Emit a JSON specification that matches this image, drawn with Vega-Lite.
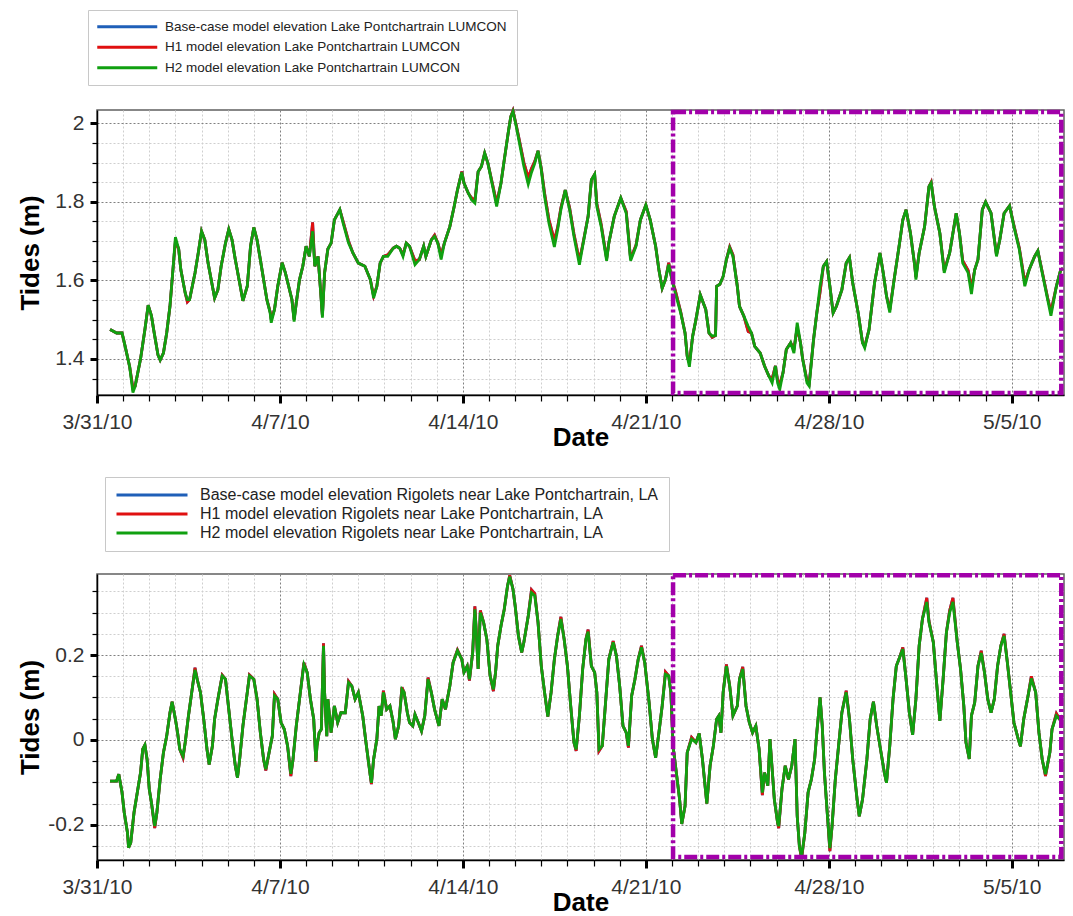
{
"$schema":"https://vega.github.io/schema/vega-lite/v6.json",
"background":"white",
"padding":{"left":16,"top":8,"right":0,"bottom":0},
"spacing":24,
"config":{"font":"Liberation Sans","view":{"stroke":"#606060","strokeWidth":1.5},"axis":{"labelFont":"Liberation Sans","titleFont":"Liberation Sans"}},
"resolve":{"scale":{"color":"independent"},"legend":{"color":"independent"}},
"datasets":{
"top":[
{"t":"2010-03-31T12:00","b":1.475,"r":1.475,"g":1.475},
{"t":"2010-03-31T18:00","b":1.466,"r":1.466,"g":1.466},
{"t":"2010-03-31T23:00","b":1.466,"r":1.466,"g":1.466},
{"t":"2010-04-01T02:00","b":1.43,"r":1.43,"g":1.43},
{"t":"2010-04-01T06:00","b":1.38,"r":1.38,"g":1.38},
{"t":"2010-04-01T09:00","b":1.325,"r":1.325,"g":1.314},
{"t":"2010-04-01T11:00","b":1.33,"r":1.33,"g":1.33},
{"t":"2010-04-01T16:00","b":1.40,"r":1.40,"g":1.40},
{"t":"2010-04-01T20:00","b":1.475,"r":1.475,"g":1.475},
{"t":"2010-04-01T23:00","b":1.537,"r":1.537,"g":1.537},
{"t":"2010-04-02T02:00","b":1.51,"r":1.51,"g":1.51},
{"t":"2010-04-02T04:00","b":1.475,"r":1.475,"g":1.475},
{"t":"2010-04-02T08:00","b":1.41,"r":1.41,"g":1.41},
{"t":"2010-04-02T10:00","b":1.397,"r":1.397,"g":1.397},
{"t":"2010-04-02T13:00","b":1.415,"r":1.415,"g":1.415},
{"t":"2010-04-02T16:00","b":1.466,"r":1.466,"g":1.466},
{"t":"2010-04-02T19:00","b":1.534,"r":1.534,"g":1.534},
{"t":"2010-04-02T22:00","b":1.636,"r":1.636,"g":1.636},
{"t":"2010-04-03T00:00","b":1.70,"r":1.70,"g":1.71},
{"t":"2010-04-03T03:00","b":1.68,"r":1.68,"g":1.68},
{"t":"2010-04-03T05:00","b":1.627,"r":1.627,"g":1.627},
{"t":"2010-04-03T09:00","b":1.568,"r":1.568,"g":1.568},
{"t":"2010-04-03T11:00","b":1.545,"r":1.545,"g":1.551},
{"t":"2010-04-03T13:00","b":1.551,"r":1.551,"g":1.551},
{"t":"2010-04-03T18:00","b":1.619,"r":1.619,"g":1.619},
{"t":"2010-04-03T21:00","b":1.67,"r":1.67,"g":1.67},
{"t":"2010-04-04T00:00","b":1.725,"r":1.725,"g":1.725},
{"t":"2010-04-04T03:00","b":1.703,"r":1.703,"g":1.703},
{"t":"2010-04-04T06:00","b":1.644,"r":1.644,"g":1.644},
{"t":"2010-04-04T10:00","b":1.585,"r":1.585,"g":1.585},
{"t":"2010-04-04T12:00","b":1.555,"r":1.555,"g":1.555},
{"t":"2010-04-04T15:00","b":1.576,"r":1.576,"g":1.576},
{"t":"2010-04-04T18:00","b":1.636,"r":1.636,"g":1.636},
{"t":"2010-04-04T22:00","b":1.695,"r":1.695,"g":1.695},
{"t":"2010-04-05T01:00","b":1.73,"r":1.73,"g":1.73},
{"t":"2010-04-05T04:00","b":1.703,"r":1.703,"g":1.703},
{"t":"2010-04-05T07:00","b":1.653,"r":1.653,"g":1.653},
{"t":"2010-04-05T11:00","b":1.593,"r":1.593,"g":1.593},
{"t":"2010-04-05T14:00","b":1.548,"r":1.548,"g":1.548},
{"t":"2010-04-05T18:00","b":1.585,"r":1.585,"g":1.585},
{"t":"2010-04-05T21:00","b":1.687,"r":1.687,"g":1.687},
{"t":"2010-04-06T00:00","b":1.735,"r":1.735,"g":1.735},
{"t":"2010-04-06T03:00","b":1.703,"r":1.703,"g":1.703},
{"t":"2010-04-06T07:00","b":1.636,"r":1.636,"g":1.636},
{"t":"2010-04-06T12:00","b":1.551,"r":1.551,"g":1.551},
{"t":"2010-04-06T15:00","b":1.52,"r":1.52,"g":1.517},
{"t":"2010-04-06T16:00","b":1.50,"r":1.50,"g":1.492},
{"t":"2010-04-06T19:00","b":1.526,"r":1.526,"g":1.526},
{"t":"2010-04-06T22:00","b":1.585,"r":1.585,"g":1.585},
{"t":"2010-04-07T02:00","b":1.645,"r":1.645,"g":1.645},
{"t":"2010-04-07T05:00","b":1.619,"r":1.619,"g":1.619},
{"t":"2010-04-07T08:00","b":1.585,"r":1.585,"g":1.585},
{"t":"2010-04-07T11:00","b":1.551,"r":1.551,"g":1.551},
{"t":"2010-04-07T13:00","b":1.50,"r":1.50,"g":1.495},
{"t":"2010-04-07T15:00","b":1.543,"r":1.543,"g":1.543},
{"t":"2010-04-07T18:00","b":1.602,"r":1.602,"g":1.602},
{"t":"2010-04-07T21:00","b":1.636,"r":1.636,"g":1.636},
{"t":"2010-04-08T00:00","b":1.687,"r":1.687,"g":1.687},
{"t":"2010-04-08T03:00","b":1.661,"r":1.661,"g":1.661},
{"t":"2010-04-08T06:00","b":1.748,"r":1.748,"g":1.725},
{"t":"2010-04-08T08:00","b":1.636,"r":1.636,"g":1.636},
{"t":"2010-04-08T11:00","b":1.661,"r":1.661,"g":1.661},
{"t":"2010-04-08T13:00","b":1.585,"r":1.585,"g":1.585},
{"t":"2010-04-08T15:00","b":1.51,"r":1.51,"g":1.505},
{"t":"2010-04-08T17:00","b":1.619,"r":1.619,"g":1.619},
{"t":"2010-04-08T20:00","b":1.68,"r":1.68,"g":1.68},
{"t":"2010-04-08T23:00","b":1.695,"r":1.695,"g":1.695},
{"t":"2010-04-09T02:00","b":1.754,"r":1.754,"g":1.754},
{"t":"2010-04-09T07:00","b":1.78,"r":1.78,"g":1.78},
{"t":"2010-04-09T10:00","b":1.75,"r":1.75,"g":1.746},
{"t":"2010-04-09T15:00","b":1.70,"r":1.70,"g":1.695},
{"t":"2010-04-09T19:00","b":1.67,"r":1.67,"g":1.67},
{"t":"2010-04-10T00:00","b":1.644,"r":1.644,"g":1.644},
{"t":"2010-04-10T06:00","b":1.636,"r":1.636,"g":1.636},
{"t":"2010-04-10T11:00","b":1.602,"r":1.602,"g":1.602},
{"t":"2010-04-10T14:00","b":1.56,"r":1.56,"g":1.555},
{"t":"2010-04-10T17:00","b":1.585,"r":1.585,"g":1.585},
{"t":"2010-04-10T20:00","b":1.644,"r":1.644,"g":1.644},
{"t":"2010-04-10T23:00","b":1.661,"r":1.661,"g":1.661},
{"t":"2010-04-11T03:00","b":1.665,"r":1.665,"g":1.661},
{"t":"2010-04-11T08:00","b":1.682,"r":1.682,"g":1.682},
{"t":"2010-04-11T11:00","b":1.687,"r":1.687,"g":1.687},
{"t":"2010-04-11T14:00","b":1.682,"r":1.682,"g":1.682},
{"t":"2010-04-11T17:00","b":1.665,"r":1.665,"g":1.661},
{"t":"2010-04-11T20:00","b":1.695,"r":1.695,"g":1.695},
{"t":"2010-04-11T23:00","b":1.687,"r":1.687,"g":1.687},
{"t":"2010-04-12T04:00","b":1.65,"r":1.65,"g":1.64},
{"t":"2010-04-12T08:00","b":1.653,"r":1.653,"g":1.653},
{"t":"2010-04-12T12:00","b":1.687,"r":1.687,"g":1.687},
{"t":"2010-04-12T14:00","b":1.661,"r":1.661,"g":1.661},
{"t":"2010-04-12T19:00","b":1.703,"r":1.703,"g":1.703},
{"t":"2010-04-12T22:00","b":1.715,"r":1.715,"g":1.712},
{"t":"2010-04-13T01:00","b":1.695,"r":1.695,"g":1.695},
{"t":"2010-04-13T04:00","b":1.665,"r":1.665,"g":1.653},
{"t":"2010-04-13T07:00","b":1.695,"r":1.695,"g":1.695},
{"t":"2010-04-13T12:00","b":1.737,"r":1.737,"g":1.737},
{"t":"2010-04-13T16:00","b":1.788,"r":1.788,"g":1.788},
{"t":"2010-04-13T19:00","b":1.83,"r":1.83,"g":1.83},
{"t":"2010-04-13T23:00","b":1.877,"r":1.877,"g":1.875},
{"t":"2010-04-14T01:00","b":1.848,"r":1.848,"g":1.848},
{"t":"2010-04-14T05:00","b":1.822,"r":1.822,"g":1.822},
{"t":"2010-04-14T08:00","b":1.81,"r":1.81,"g":1.805},
{"t":"2010-04-14T11:00","b":1.803,"r":1.803,"g":1.797},
{"t":"2010-04-14T14:00","b":1.877,"r":1.877,"g":1.877},
{"t":"2010-04-14T17:00","b":1.89,"r":1.89,"g":1.89},
{"t":"2010-04-14T20:00","b":1.924,"r":1.924,"g":1.924},
{"t":"2010-04-14T23:00","b":1.898,"r":1.898,"g":1.898},
{"t":"2010-04-15T04:00","b":1.835,"r":1.835,"g":1.83},
{"t":"2010-04-15T07:00","b":1.797,"r":1.797,"g":1.788},
{"t":"2010-04-15T11:00","b":1.848,"r":1.848,"g":1.848},
{"t":"2010-04-15T14:00","b":1.907,"r":1.907,"g":1.907},
{"t":"2010-04-15T18:00","b":1.983,"r":1.983,"g":1.983},
{"t":"2010-04-15T20:00","b":2.017,"r":2.017,"g":2.017},
{"t":"2010-04-15T22:00","b":2.032,"r":2.032,"g":2.03},
{"t":"2010-04-16T01:00","b":1.995,"r":1.995,"g":1.992},
{"t":"2010-04-16T04:00","b":1.955,"r":1.955,"g":1.949},
{"t":"2010-04-16T08:00","b":1.90,"r":1.90,"g":1.89},
{"t":"2010-04-16T12:00","b":1.862,"r":1.862,"g":1.845},
{"t":"2010-04-16T15:00","b":1.885,"r":1.885,"g":1.875},
{"t":"2010-04-16T18:00","b":1.903,"r":1.903,"g":1.898},
{"t":"2010-04-16T21:00","b":1.93,"r":1.93,"g":1.93},
{"t":"2010-04-17T00:00","b":1.885,"r":1.885,"g":1.881},
{"t":"2010-04-17T03:00","b":1.822,"r":1.822,"g":1.814},
{"t":"2010-04-17T07:00","b":1.755,"r":1.755,"g":1.746},
{"t":"2010-04-17T12:00","b":1.702,"r":1.702,"g":1.685},
{"t":"2010-04-17T15:00","b":1.735,"r":1.735,"g":1.729},
{"t":"2010-04-17T18:00","b":1.785,"r":1.785,"g":1.78},
{"t":"2010-04-17T22:00","b":1.83,"r":1.83,"g":1.83},
{"t":"2010-04-18T02:00","b":1.785,"r":1.785,"g":1.78},
{"t":"2010-04-18T06:00","b":1.718,"r":1.718,"g":1.712},
{"t":"2010-04-18T11:00","b":1.65,"r":1.65,"g":1.64},
{"t":"2010-04-18T14:00","b":1.69,"r":1.69,"g":1.687},
{"t":"2010-04-18T19:00","b":1.763,"r":1.763,"g":1.763},
{"t":"2010-04-18T22:00","b":1.856,"r":1.856,"g":1.856},
{"t":"2010-04-19T01:00","b":1.87,"r":1.87,"g":1.87},
{"t":"2010-04-19T03:00","b":1.795,"r":1.795,"g":1.788},
{"t":"2010-04-19T07:00","b":1.742,"r":1.742,"g":1.737},
{"t":"2010-04-19T12:00","b":1.655,"r":1.655,"g":1.65},
{"t":"2010-04-19T14:00","b":1.695,"r":1.695,"g":1.695},
{"t":"2010-04-19T19:00","b":1.763,"r":1.763,"g":1.763},
{"t":"2010-04-20T01:00","b":1.81,"r":1.81,"g":1.81},
{"t":"2010-04-20T06:00","b":1.775,"r":1.775,"g":1.771},
{"t":"2010-04-20T10:00","b":1.655,"r":1.655,"g":1.65},
{"t":"2010-04-20T15:00","b":1.69,"r":1.69,"g":1.687},
{"t":"2010-04-20T19:00","b":1.754,"r":1.754,"g":1.754},
{"t":"2010-04-21T00:00","b":1.792,"r":1.792,"g":1.792},
{"t":"2010-04-21T04:00","b":1.754,"r":1.754,"g":1.754},
{"t":"2010-04-21T09:00","b":1.687,"r":1.687,"g":1.687},
{"t":"2010-04-21T12:00","b":1.627,"r":1.627,"g":1.627},
{"t":"2010-04-21T15:00","b":1.58,"r":1.58,"g":1.58},
{"t":"2010-04-21T18:00","b":1.602,"r":1.602,"g":1.602},
{"t":"2010-04-21T21:00","b":1.645,"r":1.645,"g":1.64},
{"t":"2010-04-22T00:00","b":1.602,"r":1.602,"g":1.602},
{"t":"2010-04-22T03:00","b":1.575,"r":1.575,"g":1.568},
{"t":"2010-04-22T08:00","b":1.52,"r":1.52,"g":1.517},
{"t":"2010-04-22T12:00","b":1.466,"r":1.466,"g":1.466},
{"t":"2010-04-22T14:00","b":1.407,"r":1.407,"g":1.407},
{"t":"2010-04-22T16:00","b":1.39,"r":1.39,"g":1.38},
{"t":"2010-04-22T19:00","b":1.458,"r":1.458,"g":1.458},
{"t":"2010-04-22T22:00","b":1.50,"r":1.50,"g":1.50},
{"t":"2010-04-23T02:00","b":1.563,"r":1.563,"g":1.563},
{"t":"2010-04-23T07:00","b":1.526,"r":1.526,"g":1.526},
{"t":"2010-04-23T10:00","b":1.466,"r":1.466,"g":1.466},
{"t":"2010-04-23T13:00","b":1.455,"r":1.455,"g":1.458},
{"t":"2010-04-23T16:00","b":1.46,"r":1.46,"g":1.46},
{"t":"2010-04-23T17:00","b":1.585,"r":1.585,"g":1.585},
{"t":"2010-04-23T20:00","b":1.59,"r":1.59,"g":1.59},
{"t":"2010-04-23T23:00","b":1.61,"r":1.61,"g":1.61},
{"t":"2010-04-24T02:00","b":1.653,"r":1.653,"g":1.653},
{"t":"2010-04-24T05:00","b":1.685,"r":1.685,"g":1.682},
{"t":"2010-04-24T08:00","b":1.665,"r":1.665,"g":1.661},
{"t":"2010-04-24T12:00","b":1.585,"r":1.585,"g":1.585},
{"t":"2010-04-24T14:00","b":1.534,"r":1.534,"g":1.534},
{"t":"2010-04-24T18:00","b":1.509,"r":1.509,"g":1.509},
{"t":"2010-04-24T22:00","b":1.47,"r":1.47,"g":1.483},
{"t":"2010-04-25T01:00","b":1.466,"r":1.466,"g":1.466},
{"t":"2010-04-25T04:00","b":1.432,"r":1.432,"g":1.432},
{"t":"2010-04-25T09:00","b":1.415,"r":1.415,"g":1.415},
{"t":"2010-04-25T13:00","b":1.382,"r":1.382,"g":1.382},
{"t":"2010-04-25T17:00","b":1.356,"r":1.356,"g":1.356},
{"t":"2010-04-25T20:00","b":1.35,"r":1.35,"g":1.339},
{"t":"2010-04-25T23:00","b":1.382,"r":1.382,"g":1.382},
{"t":"2010-04-26T01:00","b":1.345,"r":1.345,"g":1.339},
{"t":"2010-04-26T03:00","b":1.335,"r":1.335,"g":1.322},
{"t":"2010-04-26T06:00","b":1.365,"r":1.365,"g":1.365},
{"t":"2010-04-26T09:00","b":1.424,"r":1.424,"g":1.424},
{"t":"2010-04-26T13:00","b":1.441,"r":1.441,"g":1.441},
{"t":"2010-04-26T16:00","b":1.425,"r":1.425,"g":1.415},
{"t":"2010-04-26T19:00","b":1.48,"r":1.48,"g":1.492},
{"t":"2010-04-26T22:00","b":1.441,"r":1.441,"g":1.441},
{"t":"2010-04-27T00:00","b":1.40,"r":1.40,"g":1.40},
{"t":"2010-04-27T04:00","b":1.345,"r":1.345,"g":1.339},
{"t":"2010-04-27T06:00","b":1.337,"r":1.337,"g":1.331},
{"t":"2010-04-27T10:00","b":1.449,"r":1.449,"g":1.449},
{"t":"2010-04-27T13:00","b":1.517,"r":1.517,"g":1.517},
{"t":"2010-04-27T16:00","b":1.57,"r":1.57,"g":1.585},
{"t":"2010-04-27T19:00","b":1.636,"r":1.636,"g":1.636},
{"t":"2010-04-27T22:00","b":1.648,"r":1.648,"g":1.648},
{"t":"2010-04-28T01:00","b":1.585,"r":1.585,"g":1.585},
{"t":"2010-04-28T04:00","b":1.517,"r":1.517,"g":1.517},
{"t":"2010-04-28T07:00","b":1.534,"r":1.534,"g":1.534},
{"t":"2010-04-28T12:00","b":1.576,"r":1.576,"g":1.576},
{"t":"2010-04-28T16:00","b":1.644,"r":1.644,"g":1.644},
{"t":"2010-04-28T19:00","b":1.658,"r":1.658,"g":1.658},
{"t":"2010-04-28T22:00","b":1.593,"r":1.593,"g":1.593},
{"t":"2010-04-29T03:00","b":1.517,"r":1.517,"g":1.517},
{"t":"2010-04-29T07:00","b":1.441,"r":1.441,"g":1.441},
{"t":"2010-04-29T09:00","b":1.432,"r":1.432,"g":1.428},
{"t":"2010-04-29T13:00","b":1.475,"r":1.475,"g":1.475},
{"t":"2010-04-29T18:00","b":1.593,"r":1.593,"g":1.593},
{"t":"2010-04-29T23:00","b":1.67,"r":1.67,"g":1.67},
{"t":"2010-04-30T02:00","b":1.619,"r":1.619,"g":1.619},
{"t":"2010-04-30T05:00","b":1.56,"r":1.56,"g":1.56},
{"t":"2010-04-30T08:00","b":1.525,"r":1.525,"g":1.518},
{"t":"2010-04-30T12:00","b":1.602,"r":1.602,"g":1.602},
{"t":"2010-04-30T17:00","b":1.695,"r":1.695,"g":1.695},
{"t":"2010-04-30T20:00","b":1.754,"r":1.754,"g":1.754},
{"t":"2010-04-30T23:00","b":1.78,"r":1.78,"g":1.78},
{"t":"2010-05-01T03:00","b":1.72,"r":1.72,"g":1.72},
{"t":"2010-05-01T07:00","b":1.636,"r":1.636,"g":1.636},
{"t":"2010-05-01T08:00","b":1.608,"r":1.608,"g":1.602},
{"t":"2010-05-01T11:00","b":1.67,"r":1.67,"g":1.67},
{"t":"2010-05-01T16:00","b":1.737,"r":1.737,"g":1.737},
{"t":"2010-05-01T20:00","b":1.839,"r":1.839,"g":1.839},
{"t":"2010-05-01T22:00","b":1.85,"r":1.85,"g":1.848},
{"t":"2010-05-02T01:00","b":1.788,"r":1.788,"g":1.788},
{"t":"2010-05-02T06:00","b":1.72,"r":1.72,"g":1.72},
{"t":"2010-05-02T10:00","b":1.625,"r":1.625,"g":1.619},
{"t":"2010-05-02T15:00","b":1.67,"r":1.67,"g":1.67},
{"t":"2010-05-02T21:00","b":1.771,"r":1.771,"g":1.771},
{"t":"2010-05-03T00:00","b":1.72,"r":1.72,"g":1.72},
{"t":"2010-05-03T03:00","b":1.65,"r":1.65,"g":1.644},
{"t":"2010-05-03T08:00","b":1.625,"r":1.625,"g":1.619},
{"t":"2010-05-03T11:00","b":1.58,"r":1.58,"g":1.565},
{"t":"2010-05-03T14:00","b":1.627,"r":1.627,"g":1.627},
{"t":"2010-05-03T17:00","b":1.653,"r":1.653,"g":1.653},
{"t":"2010-05-03T21:00","b":1.78,"r":1.78,"g":1.78},
{"t":"2010-05-04T00:00","b":1.80,"r":1.80,"g":1.80},
{"t":"2010-05-04T05:00","b":1.771,"r":1.771,"g":1.771},
{"t":"2010-05-04T10:00","b":1.665,"r":1.665,"g":1.661},
{"t":"2010-05-04T13:00","b":1.703,"r":1.703,"g":1.703},
{"t":"2010-05-04T17:00","b":1.771,"r":1.771,"g":1.771},
{"t":"2010-05-04T22:00","b":1.79,"r":1.79,"g":1.79},
{"t":"2010-05-05T02:00","b":1.74,"r":1.74,"g":1.737},
{"t":"2010-05-05T07:00","b":1.682,"r":1.682,"g":1.678},
{"t":"2010-05-05T12:00","b":1.595,"r":1.595,"g":1.585},
{"t":"2010-05-05T16:00","b":1.627,"r":1.627,"g":1.627},
{"t":"2010-05-05T21:00","b":1.661,"r":1.661,"g":1.661},
{"t":"2010-05-06T00:00","b":1.675,"r":1.675,"g":1.675},
{"t":"2010-05-06T04:00","b":1.622,"r":1.622,"g":1.619},
{"t":"2010-05-06T09:00","b":1.555,"r":1.555,"g":1.551},
{"t":"2010-05-06T12:00","b":1.52,"r":1.52,"g":1.51},
{"t":"2010-05-06T17:00","b":1.585,"r":1.585,"g":1.585},
{"t":"2010-05-06T21:00","b":1.627,"r":1.627,"g":1.627},
{"t":"2010-05-06T23:00","b":1.63,"r":1.63,"g":1.63}
],
"bot":[
{"t":"2010-03-31T12:00","b":-0.097,"r":-0.097,"g":-0.097},
{"t":"2010-03-31T18:00","b":-0.097,"r":-0.097,"g":-0.097},
{"t":"2010-03-31T20:00","b":-0.081,"r":-0.081,"g":-0.081},
{"t":"2010-03-31T23:00","b":-0.124,"r":-0.124,"g":-0.124},
{"t":"2010-04-01T01:00","b":-0.171,"r":-0.171,"g":-0.171},
{"t":"2010-04-01T04:00","b":-0.219,"r":-0.219,"g":-0.219},
{"t":"2010-04-01T05:00","b":-0.254,"r":-0.254,"g":-0.254},
{"t":"2010-04-01T07:00","b":-0.242,"r":-0.242,"g":-0.242},
{"t":"2010-04-01T10:00","b":-0.171,"r":-0.171,"g":-0.171},
{"t":"2010-04-01T13:00","b":-0.124,"r":-0.124,"g":-0.124},
{"t":"2010-04-01T16:00","b":-0.077,"r":-0.077,"g":-0.077},
{"t":"2010-04-01T18:00","b":-0.022,"r":-0.022,"g":-0.022},
{"t":"2010-04-01T20:00","b":-0.012,"r":-0.012,"g":-0.012},
{"t":"2010-04-01T22:00","b":-0.046,"r":-0.046,"g":-0.046},
{"t":"2010-04-02T00:00","b":-0.116,"r":-0.116,"g":-0.116},
{"t":"2010-04-02T02:00","b":-0.148,"r":-0.148,"g":-0.148},
{"t":"2010-04-02T05:00","b":-0.208,"r":-0.208,"g":-0.203},
{"t":"2010-04-02T07:00","b":-0.171,"r":-0.171,"g":-0.171},
{"t":"2010-04-02T10:00","b":-0.093,"r":-0.093,"g":-0.093},
{"t":"2010-04-02T13:00","b":-0.03,"r":-0.03,"g":-0.03},
{"t":"2010-04-02T16:00","b":0.009,"r":0.009,"g":0.009},
{"t":"2010-04-02T19:00","b":0.064,"r":0.064,"g":0.064},
{"t":"2010-04-02T21:00","b":0.09,"r":0.09,"g":0.09},
{"t":"2010-04-03T00:00","b":0.049,"r":0.049,"g":0.049},
{"t":"2010-04-03T02:00","b":0.017,"r":0.017,"g":0.017},
{"t":"2010-04-03T04:00","b":-0.022,"r":-0.022,"g":-0.022},
{"t":"2010-04-03T07:00","b":-0.042,"r":-0.042,"g":-0.038},
{"t":"2010-04-03T09:00","b":-0.006,"r":-0.006,"g":-0.006},
{"t":"2010-04-03T12:00","b":0.057,"r":0.057,"g":0.057},
{"t":"2010-04-03T15:00","b":0.112,"r":0.112,"g":0.112},
{"t":"2010-04-03T18:00","b":0.17,"r":0.17,"g":0.165},
{"t":"2010-04-03T20:00","b":0.143,"r":0.143,"g":0.143},
{"t":"2010-04-03T23:00","b":0.112,"r":0.112,"g":0.112},
{"t":"2010-04-04T02:00","b":0.049,"r":0.049,"g":0.049},
{"t":"2010-04-04T05:00","b":-0.022,"r":-0.022,"g":-0.022},
{"t":"2010-04-04T07:00","b":-0.058,"r":-0.058,"g":-0.058},
{"t":"2010-04-04T10:00","b":-0.014,"r":-0.014,"g":-0.014},
{"t":"2010-04-04T12:00","b":0.049,"r":0.049,"g":0.049},
{"t":"2010-04-04T15:00","b":0.096,"r":0.096,"g":0.096},
{"t":"2010-04-04T19:00","b":0.153,"r":0.153,"g":0.151},
{"t":"2010-04-04T22:00","b":0.143,"r":0.143,"g":0.143},
{"t":"2010-04-05T01:00","b":0.072,"r":0.072,"g":0.072},
{"t":"2010-04-05T04:00","b":0.002,"r":0.002,"g":0.002},
{"t":"2010-04-05T07:00","b":-0.061,"r":-0.061,"g":-0.061},
{"t":"2010-04-05T09:00","b":-0.089,"r":-0.089,"g":-0.089},
{"t":"2010-04-05T11:00","b":-0.046,"r":-0.046,"g":-0.046},
{"t":"2010-04-05T14:00","b":0.033,"r":0.033,"g":0.033},
{"t":"2010-04-05T18:00","b":0.112,"r":0.112,"g":0.112},
{"t":"2010-04-05T20:00","b":0.153,"r":0.153,"g":0.151},
{"t":"2010-04-06T00:00","b":0.143,"r":0.143,"g":0.143},
{"t":"2010-04-06T03:00","b":0.096,"r":0.096,"g":0.096},
{"t":"2010-04-06T06:00","b":0.017,"r":0.017,"g":0.017},
{"t":"2010-04-06T09:00","b":-0.046,"r":-0.046,"g":-0.046},
{"t":"2010-04-06T11:00","b":-0.072,"r":-0.072,"g":-0.069},
{"t":"2010-04-06T14:00","b":-0.03,"r":-0.03,"g":-0.03},
{"t":"2010-04-06T17:00","b":0.009,"r":0.009,"g":0.009},
{"t":"2010-04-06T19:00","b":0.108,"r":0.108,"g":0.104},
{"t":"2010-04-06T22:00","b":0.096,"r":0.096,"g":0.096},
{"t":"2010-04-07T01:00","b":0.041,"r":0.041,"g":0.041},
{"t":"2010-04-07T04:00","b":0.025,"r":0.025,"g":0.025},
{"t":"2010-04-07T07:00","b":-0.014,"r":-0.014,"g":-0.014},
{"t":"2010-04-07T10:00","b":-0.085,"r":-0.085,"g":-0.08},
{"t":"2010-04-07T12:00","b":-0.046,"r":-0.046,"g":-0.046},
{"t":"2010-04-07T15:00","b":0.033,"r":0.033,"g":0.033},
{"t":"2010-04-07T18:00","b":0.096,"r":0.096,"g":0.096},
{"t":"2010-04-07T22:00","b":0.182,"r":0.182,"g":0.178},
{"t":"2010-04-08T01:00","b":0.159,"r":0.159,"g":0.159},
{"t":"2010-04-08T04:00","b":0.096,"r":0.096,"g":0.096},
{"t":"2010-04-08T07:00","b":0.049,"r":0.049,"g":0.049},
{"t":"2010-04-08T09:00","b":-0.052,"r":-0.052,"g":-0.05},
{"t":"2010-04-08T10:00","b":-0.014,"r":-0.014,"g":-0.014},
{"t":"2010-04-08T12:00","b":0.017,"r":0.017,"g":0.017},
{"t":"2010-04-08T14:00","b":0.025,"r":0.025,"g":0.025},
{"t":"2010-04-08T16:00","b":0.228,"r":0.228,"g":0.222},
{"t":"2010-04-08T17:00","b":0.112,"r":0.112,"g":0.112},
{"t":"2010-04-08T19:00","b":0.009,"r":0.009,"g":0.009},
{"t":"2010-04-08T20:00","b":0.096,"r":0.096,"g":0.096},
{"t":"2010-04-08T23:00","b":0.017,"r":0.017,"g":0.017},
{"t":"2010-04-09T02:00","b":0.08,"r":0.08,"g":0.08},
{"t":"2010-04-09T05:00","b":0.041,"r":0.041,"g":0.041},
{"t":"2010-04-09T08:00","b":0.064,"r":0.064,"g":0.064},
{"t":"2010-04-09T12:00","b":0.064,"r":0.064,"g":0.064},
{"t":"2010-04-09T15:00","b":0.138,"r":0.138,"g":0.135},
{"t":"2010-04-09T18:00","b":0.127,"r":0.127,"g":0.127},
{"t":"2010-04-09T21:00","b":0.096,"r":0.096,"g":0.096},
{"t":"2010-04-10T00:00","b":0.112,"r":0.112,"g":0.112},
{"t":"2010-04-10T04:00","b":0.057,"r":0.057,"g":0.057},
{"t":"2010-04-10T07:00","b":-0.006,"r":-0.006,"g":-0.006},
{"t":"2010-04-10T11:00","b":-0.085,"r":-0.085,"g":-0.085},
{"t":"2010-04-10T12:00","b":-0.104,"r":-0.104,"g":-0.101},
{"t":"2010-04-10T14:00","b":-0.046,"r":-0.046,"g":-0.046},
{"t":"2010-04-10T17:00","b":0.002,"r":0.002,"g":0.002},
{"t":"2010-04-10T19:00","b":0.08,"r":0.08,"g":0.08},
{"t":"2010-04-10T21:00","b":0.057,"r":0.057,"g":0.057},
{"t":"2010-04-10T23:00","b":0.116,"r":0.116,"g":0.112},
{"t":"2010-04-11T02:00","b":0.072,"r":0.072,"g":0.072},
{"t":"2010-04-11T05:00","b":0.08,"r":0.08,"g":0.08},
{"t":"2010-04-11T08:00","b":0.041,"r":0.041,"g":0.041},
{"t":"2010-04-11T10:00","b":0.002,"r":0.002,"g":0.002},
{"t":"2010-04-11T13:00","b":0.033,"r":0.033,"g":0.033},
{"t":"2010-04-11T16:00","b":0.124,"r":0.124,"g":0.119},
{"t":"2010-04-11T18:00","b":0.112,"r":0.112,"g":0.112},
{"t":"2010-04-11T21:00","b":0.064,"r":0.064,"g":0.064},
{"t":"2010-04-11T23:00","b":0.041,"r":0.041,"g":0.041},
{"t":"2010-04-12T02:00","b":0.033,"r":0.033,"g":0.033},
{"t":"2010-04-12T04:00","b":0.06,"r":0.06,"g":0.06},
{"t":"2010-04-12T07:00","b":0.041,"r":0.041,"g":0.041},
{"t":"2010-04-12T10:00","b":0.021,"r":0.021,"g":0.021},
{"t":"2010-04-12T13:00","b":0.057,"r":0.057,"g":0.057},
{"t":"2010-04-12T16:00","b":0.147,"r":0.147,"g":0.143},
{"t":"2010-04-12T19:00","b":0.112,"r":0.112,"g":0.112},
{"t":"2010-04-12T22:00","b":0.072,"r":0.072,"g":0.072},
{"t":"2010-04-13T02:00","b":0.033,"r":0.033,"g":0.033},
{"t":"2010-04-13T05:00","b":0.096,"r":0.096,"g":0.096},
{"t":"2010-04-13T08:00","b":0.072,"r":0.072,"g":0.072},
{"t":"2010-04-13T12:00","b":0.127,"r":0.127,"g":0.127},
{"t":"2010-04-13T15:00","b":0.182,"r":0.182,"g":0.182},
{"t":"2010-04-13T19:00","b":0.212,"r":0.212,"g":0.21},
{"t":"2010-04-13T23:00","b":0.19,"r":0.19,"g":0.19},
{"t":"2010-04-14T01:00","b":0.159,"r":0.159,"g":0.159},
{"t":"2010-04-14T04:00","b":0.174,"r":0.174,"g":0.174},
{"t":"2010-04-14T06:00","b":0.14,"r":0.14,"g":0.143},
{"t":"2010-04-14T09:00","b":0.206,"r":0.206,"g":0.206},
{"t":"2010-04-14T11:00","b":0.315,"r":0.315,"g":0.308},
{"t":"2010-04-14T12:00","b":0.269,"r":0.269,"g":0.269},
{"t":"2010-04-14T14:00","b":0.167,"r":0.167,"g":0.167},
{"t":"2010-04-14T16:00","b":0.305,"r":0.305,"g":0.30},
{"t":"2010-04-14T19:00","b":0.277,"r":0.277,"g":0.277},
{"t":"2010-04-14T22:00","b":0.237,"r":0.237,"g":0.237},
{"t":"2010-04-15T01:00","b":0.151,"r":0.151,"g":0.151},
{"t":"2010-04-15T04:00","b":0.115,"r":0.115,"g":0.119},
{"t":"2010-04-15T06:00","b":0.159,"r":0.159,"g":0.159},
{"t":"2010-04-15T08:00","b":0.222,"r":0.222,"g":0.222},
{"t":"2010-04-15T11:00","b":0.269,"r":0.269,"g":0.269},
{"t":"2010-04-15T14:00","b":0.308,"r":0.308,"g":0.308},
{"t":"2010-04-15T17:00","b":0.363,"r":0.363,"g":0.363},
{"t":"2010-04-15T19:00","b":0.388,"r":0.388,"g":0.385},
{"t":"2010-04-15T22:00","b":0.355,"r":0.355,"g":0.355},
{"t":"2010-04-16T00:00","b":0.316,"r":0.316,"g":0.316},
{"t":"2010-04-16T03:00","b":0.245,"r":0.245,"g":0.245},
{"t":"2010-04-16T06:00","b":0.206,"r":0.206,"g":0.206},
{"t":"2010-04-16T08:00","b":0.23,"r":0.23,"g":0.23},
{"t":"2010-04-16T12:00","b":0.292,"r":0.292,"g":0.292},
{"t":"2010-04-16T15:00","b":0.354,"r":0.354,"g":0.347},
{"t":"2010-04-16T18:00","b":0.345,"r":0.345,"g":0.34},
{"t":"2010-04-16T21:00","b":0.277,"r":0.277,"g":0.277},
{"t":"2010-04-17T00:00","b":0.174,"r":0.174,"g":0.174},
{"t":"2010-04-17T03:00","b":0.112,"r":0.112,"g":0.112},
{"t":"2010-04-17T06:00","b":0.055,"r":0.055,"g":0.055},
{"t":"2010-04-17T09:00","b":0.112,"r":0.112,"g":0.112},
{"t":"2010-04-17T12:00","b":0.19,"r":0.19,"g":0.19},
{"t":"2010-04-17T15:00","b":0.245,"r":0.245,"g":0.245},
{"t":"2010-04-17T18:00","b":0.29,"r":0.29,"g":0.285},
{"t":"2010-04-17T21:00","b":0.237,"r":0.237,"g":0.237},
{"t":"2010-04-18T00:00","b":0.174,"r":0.174,"g":0.174},
{"t":"2010-04-18T03:00","b":0.08,"r":0.08,"g":0.08},
{"t":"2010-04-18T06:00","b":-0.006,"r":-0.006,"g":-0.006},
{"t":"2010-04-18T08:00","b":-0.026,"r":-0.026,"g":-0.022},
{"t":"2010-04-18T11:00","b":0.057,"r":0.057,"g":0.057},
{"t":"2010-04-18T14:00","b":0.167,"r":0.167,"g":0.167},
{"t":"2010-04-18T17:00","b":0.237,"r":0.237,"g":0.237},
{"t":"2010-04-18T19:00","b":0.26,"r":0.26,"g":0.255},
{"t":"2010-04-18T22:00","b":0.174,"r":0.174,"g":0.174},
{"t":"2010-04-19T01:00","b":0.159,"r":0.159,"g":0.159},
{"t":"2010-04-19T03:00","b":0.112,"r":0.112,"g":0.112},
{"t":"2010-04-19T05:00","b":-0.026,"r":-0.026,"g":-0.022},
{"t":"2010-04-19T08:00","b":-0.014,"r":-0.014,"g":-0.014},
{"t":"2010-04-19T11:00","b":0.088,"r":0.088,"g":0.088},
{"t":"2010-04-19T14:00","b":0.19,"r":0.19,"g":0.19},
{"t":"2010-04-19T18:00","b":0.233,"r":0.233,"g":0.23},
{"t":"2010-04-19T21:00","b":0.198,"r":0.198,"g":0.198},
{"t":"2010-04-20T00:00","b":0.127,"r":0.127,"g":0.127},
{"t":"2010-04-20T03:00","b":0.033,"r":0.033,"g":0.033},
{"t":"2010-04-20T06:00","b":0.017,"r":0.017,"g":0.017},
{"t":"2010-04-20T08:00","b":-0.018,"r":-0.018,"g":-0.014},
{"t":"2010-04-20T11:00","b":0.104,"r":0.104,"g":0.104},
{"t":"2010-04-20T14:00","b":0.143,"r":0.143,"g":0.143},
{"t":"2010-04-20T17:00","b":0.19,"r":0.19,"g":0.19},
{"t":"2010-04-20T20:00","b":0.222,"r":0.222,"g":0.218},
{"t":"2010-04-20T23:00","b":0.182,"r":0.182,"g":0.182},
{"t":"2010-04-21T03:00","b":0.088,"r":0.088,"g":0.088},
{"t":"2010-04-21T06:00","b":0.002,"r":0.002,"g":0.002},
{"t":"2010-04-21T09:00","b":-0.042,"r":-0.042,"g":-0.042},
{"t":"2010-04-21T12:00","b":0.017,"r":0.017,"g":0.017},
{"t":"2010-04-21T15:00","b":0.08,"r":0.08,"g":0.08},
{"t":"2010-04-21T18:00","b":0.16,"r":0.16,"g":0.155},
{"t":"2010-04-21T21:00","b":0.151,"r":0.151,"g":0.151},
{"t":"2010-04-21T23:00","b":0.112,"r":0.112,"g":0.112},
{"t":"2010-04-22T01:00","b":-0.014,"r":-0.014,"g":-0.014},
{"t":"2010-04-22T04:00","b":-0.077,"r":-0.077,"g":-0.077},
{"t":"2010-04-22T07:00","b":-0.14,"r":-0.14,"g":-0.14},
{"t":"2010-04-22T09:00","b":-0.198,"r":-0.198,"g":-0.198},
{"t":"2010-04-22T12:00","b":-0.156,"r":-0.156,"g":-0.156},
{"t":"2010-04-22T14:00","b":-0.03,"r":-0.03,"g":-0.03},
{"t":"2010-04-22T18:00","b":0.006,"r":0.006,"g":0.002},
{"t":"2010-04-22T22:00","b":-0.006,"r":-0.006,"g":-0.006},
{"t":"2010-04-23T01:00","b":0.015,"r":0.015,"g":0.015},
{"t":"2010-04-23T04:00","b":-0.046,"r":-0.046,"g":-0.046},
{"t":"2010-04-23T08:00","b":-0.15,"r":-0.15,"g":-0.15},
{"t":"2010-04-23T11:00","b":-0.061,"r":-0.061,"g":-0.061},
{"t":"2010-04-23T14:00","b":-0.014,"r":-0.014,"g":-0.014},
{"t":"2010-04-23T17:00","b":0.049,"r":0.049,"g":0.049},
{"t":"2010-04-23T19:00","b":0.057,"r":0.057,"g":0.057},
{"t":"2010-04-23T21:00","b":0.017,"r":0.017,"g":0.017},
{"t":"2010-04-23T23:00","b":0.112,"r":0.112,"g":0.112},
{"t":"2010-04-24T02:00","b":0.178,"r":0.178,"g":0.174},
{"t":"2010-04-24T05:00","b":0.127,"r":0.127,"g":0.127},
{"t":"2010-04-24T08:00","b":0.057,"r":0.057,"g":0.057},
{"t":"2010-04-24T12:00","b":0.08,"r":0.08,"g":0.08},
{"t":"2010-04-24T14:00","b":0.143,"r":0.143,"g":0.143},
{"t":"2010-04-24T17:00","b":0.172,"r":0.172,"g":0.167},
{"t":"2010-04-24T20:00","b":0.08,"r":0.08,"g":0.08},
{"t":"2010-04-24T23:00","b":0.041,"r":0.041,"g":0.041},
{"t":"2010-04-25T02:00","b":0.017,"r":0.017,"g":0.017},
{"t":"2010-04-25T05:00","b":0.033,"r":0.033,"g":0.033},
{"t":"2010-04-25T08:00","b":-0.022,"r":-0.022,"g":-0.022},
{"t":"2010-04-25T11:00","b":-0.13,"r":-0.13,"g":-0.124},
{"t":"2010-04-25T13:00","b":-0.077,"r":-0.077,"g":-0.077},
{"t":"2010-04-25T16:00","b":-0.108,"r":-0.108,"g":-0.108},
{"t":"2010-04-25T18:00","b":0.002,"r":0.002,"g":0.002},
{"t":"2010-04-25T22:00","b":-0.14,"r":-0.14,"g":-0.14},
{"t":"2010-04-26T01:00","b":-0.195,"r":-0.195,"g":-0.195},
{"t":"2010-04-26T02:00","b":-0.208,"r":-0.208,"g":-0.203},
{"t":"2010-04-26T05:00","b":-0.116,"r":-0.116,"g":-0.116},
{"t":"2010-04-26T08:00","b":-0.061,"r":-0.061,"g":-0.061},
{"t":"2010-04-26T11:00","b":-0.093,"r":-0.093,"g":-0.093},
{"t":"2010-04-26T14:00","b":-0.061,"r":-0.061,"g":-0.061},
{"t":"2010-04-26T17:00","b":0.002,"r":0.002,"g":0.002},
{"t":"2010-04-26T19:00","b":-0.179,"r":-0.179,"g":-0.179},
{"t":"2010-04-26T21:00","b":-0.25,"r":-0.25,"g":-0.25},
{"t":"2010-04-26T23:00","b":-0.28,"r":-0.28,"g":-0.275},
{"t":"2010-04-27T02:00","b":-0.219,"r":-0.219,"g":-0.219},
{"t":"2010-04-27T05:00","b":-0.124,"r":-0.124,"g":-0.124},
{"t":"2010-04-27T08:00","b":-0.093,"r":-0.093,"g":-0.093},
{"t":"2010-04-27T11:00","b":-0.046,"r":-0.046,"g":-0.046},
{"t":"2010-04-27T13:00","b":0.017,"r":0.017,"g":0.017},
{"t":"2010-04-27T16:00","b":0.1,"r":0.1,"g":0.1},
{"t":"2010-04-27T18:00","b":0.033,"r":0.033,"g":0.033},
{"t":"2010-04-27T20:00","b":-0.077,"r":-0.077,"g":-0.077},
{"t":"2010-04-27T23:00","b":-0.187,"r":-0.187,"g":-0.187},
{"t":"2010-04-28T01:00","b":-0.262,"r":-0.262,"g":-0.255},
{"t":"2010-04-28T03:00","b":-0.203,"r":-0.203,"g":-0.203},
{"t":"2010-04-28T06:00","b":-0.093,"r":-0.093,"g":-0.093},
{"t":"2010-04-28T09:00","b":-0.014,"r":-0.014,"g":-0.014},
{"t":"2010-04-28T12:00","b":0.064,"r":0.064,"g":0.064},
{"t":"2010-04-28T16:00","b":0.116,"r":0.116,"g":0.112},
{"t":"2010-04-28T19:00","b":0.049,"r":0.049,"g":0.049},
{"t":"2010-04-28T22:00","b":-0.046,"r":-0.046,"g":-0.046},
{"t":"2010-04-29T02:00","b":-0.14,"r":-0.14,"g":-0.14},
{"t":"2010-04-29T04:00","b":-0.18,"r":-0.18,"g":-0.18},
{"t":"2010-04-29T07:00","b":-0.14,"r":-0.14,"g":-0.14},
{"t":"2010-04-29T11:00","b":-0.046,"r":-0.046,"g":-0.046},
{"t":"2010-04-29T14:00","b":0.049,"r":0.049,"g":0.049},
{"t":"2010-04-29T17:00","b":0.09,"r":0.09,"g":0.09},
{"t":"2010-04-29T20:00","b":0.033,"r":0.033,"g":0.033},
{"t":"2010-04-30T00:00","b":-0.03,"r":-0.03,"g":-0.03},
{"t":"2010-04-30T03:00","b":-0.077,"r":-0.077,"g":-0.077},
{"t":"2010-04-30T05:00","b":-0.101,"r":-0.101,"g":-0.101},
{"t":"2010-04-30T08:00","b":-0.014,"r":-0.014,"g":-0.014},
{"t":"2010-04-30T11:00","b":0.096,"r":0.096,"g":0.096},
{"t":"2010-04-30T14:00","b":0.174,"r":0.174,"g":0.174},
{"t":"2010-04-30T17:00","b":0.194,"r":0.194,"g":0.194},
{"t":"2010-04-30T20:00","b":0.218,"r":0.218,"g":0.214},
{"t":"2010-04-30T23:00","b":0.143,"r":0.143,"g":0.143},
{"t":"2010-05-01T02:00","b":0.064,"r":0.064,"g":0.064},
{"t":"2010-05-01T05:00","b":0.012,"r":0.012,"g":0.012},
{"t":"2010-05-01T08:00","b":0.096,"r":0.096,"g":0.096},
{"t":"2010-05-01T11:00","b":0.222,"r":0.222,"g":0.222},
{"t":"2010-05-01T14:00","b":0.285,"r":0.285,"g":0.285},
{"t":"2010-05-01T18:00","b":0.335,"r":0.335,"g":0.325},
{"t":"2010-05-01T20:00","b":0.28,"r":0.28,"g":0.277},
{"t":"2010-05-02T00:00","b":0.23,"r":0.23,"g":0.23},
{"t":"2010-05-02T03:00","b":0.135,"r":0.135,"g":0.135},
{"t":"2010-05-02T06:00","b":0.045,"r":0.045,"g":0.045},
{"t":"2010-05-02T09:00","b":0.143,"r":0.143,"g":0.143},
{"t":"2010-05-02T12:00","b":0.253,"r":0.253,"g":0.253},
{"t":"2010-05-02T15:00","b":0.305,"r":0.305,"g":0.30},
{"t":"2010-05-02T18:00","b":0.335,"r":0.335,"g":0.325},
{"t":"2010-05-02T22:00","b":0.23,"r":0.23,"g":0.23},
{"t":"2010-05-03T01:00","b":0.167,"r":0.167,"g":0.167},
{"t":"2010-05-03T04:00","b":0.08,"r":0.08,"g":0.08},
{"t":"2010-05-03T06:00","b":-0.006,"r":-0.006,"g":-0.006},
{"t":"2010-05-03T09:00","b":-0.045,"r":-0.045,"g":-0.045},
{"t":"2010-05-03T11:00","b":0.057,"r":0.057,"g":0.057},
{"t":"2010-05-03T14:00","b":0.088,"r":0.088,"g":0.088},
{"t":"2010-05-03T17:00","b":0.174,"r":0.174,"g":0.174},
{"t":"2010-05-03T20:00","b":0.21,"r":0.21,"g":0.205},
{"t":"2010-05-03T23:00","b":0.159,"r":0.159,"g":0.159},
{"t":"2010-05-04T02:00","b":0.096,"r":0.096,"g":0.096},
{"t":"2010-05-04T05:00","b":0.064,"r":0.064,"g":0.064},
{"t":"2010-05-04T08:00","b":0.096,"r":0.096,"g":0.096},
{"t":"2010-05-04T11:00","b":0.174,"r":0.174,"g":0.174},
{"t":"2010-05-04T14:00","b":0.222,"r":0.222,"g":0.222},
{"t":"2010-05-04T17:00","b":0.25,"r":0.25,"g":0.245},
{"t":"2010-05-04T20:00","b":0.182,"r":0.182,"g":0.182},
{"t":"2010-05-04T23:00","b":0.112,"r":0.112,"g":0.112},
{"t":"2010-05-05T02:00","b":0.041,"r":0.041,"g":0.041},
{"t":"2010-05-05T06:00","b":0.002,"r":0.002,"g":0.002},
{"t":"2010-05-05T08:00","b":-0.015,"r":-0.015,"g":-0.015},
{"t":"2010-05-05T11:00","b":0.049,"r":0.049,"g":0.049},
{"t":"2010-05-05T15:00","b":0.104,"r":0.104,"g":0.104},
{"t":"2010-05-05T18:00","b":0.15,"r":0.15,"g":0.145},
{"t":"2010-05-05T22:00","b":0.112,"r":0.112,"g":0.112},
{"t":"2010-05-06T01:00","b":0.017,"r":0.017,"g":0.017},
{"t":"2010-05-06T04:00","b":-0.046,"r":-0.046,"g":-0.046},
{"t":"2010-05-06T07:00","b":-0.085,"r":-0.085,"g":-0.081},
{"t":"2010-05-06T11:00","b":-0.03,"r":-0.03,"g":-0.03},
{"t":"2010-05-06T13:00","b":0.025,"r":0.025,"g":0.025},
{"t":"2010-05-06T17:00","b":0.062,"r":0.062,"g":0.057},
{"t":"2010-05-06T20:00","b":0.049,"r":0.049,"g":0.049},
{"t":"2010-05-06T23:00","b":0.057,"r":0.057,"g":0.057}
]
},
"vconcat":[
{
"width":967,"height":285,
"layer":[
{
"data":{"name":"top"},
"transform":[{"fold":["b","r","g"],"as":["k","v"]}],
"mark":{"type":"line","strokeWidth":2.8},
"encoding":{
"x":{"field":"t","type":"temporal",
"scale":{"domain":[{"year":2010,"month":3,"date":31},{"year":2010,"month":5,"date":7}]},
"axis":{"orient":"bottom","values":[{"year":2010,"month":3,"date":31},{"year":2010,"month":4,"date":7},{"year":2010,"month":4,"date":14},{"year":2010,"month":4,"date":21},{"year":2010,"month":4,"date":28},{"year":2010,"month":5,"date":5}],
"format":"%-m/%-d/%y","labelFontSize":21,"labelColor":"#333","labelBaseline":"alphabetic","labelPadding":25,"labelFlush":false,"labelOverlap":false,
"tickSize":8,"tickWidth":3,"tickColor":"#000","domainColor":"#000","domainWidth":1.5,
"grid":true,"gridColor":"#808080","gridDash":[2,2],"gridWidth":1,
"title":"Date","titleFontSize":26,"titleFontWeight":"bold","titleColor":"#000","titleBaseline":"alphabetic","titleY":50}},
"y":{"field":"v","type":"quantitative",
"scale":{"domain":[1.308,2.034],"nice":false,"zero":false},
"axis":{"orient":"left","values":[1.4,1.6,1.8,2],"labelExpr":"'' + datum.value","labelFontSize":21,"labelColor":"#333","labelPadding":6,"labelFlush":false,
"tickSize":7,"tickWidth":3,"tickColor":"#000","domainColor":"#000","domainWidth":1.5,
"grid":true,"gridColor":"#808080","gridDash":[2,2],"gridWidth":1,
"title":"Tides (m)","titleFontSize":26,"titleFontWeight":"bold","titleColor":"#000","titleAngle":270,"titleBaseline":"alphabetic","titleAlign":"center","titleX":-59,"titleY":142.5}},
"color":{"field":"k","type":"nominal","scale":{"domain":["b","r","g"],"range":["#1f5fb8","#e01010","#10a010"]},
"legend":{"orient":"none","legendX":-9,"legendY":-100,"direction":"vertical","title":null,
"labelExpr":"datum.value == 'b' ? 'Base-case model elevation Lake Pontchartrain LUMCON' : datum.value == 'r' ? 'H1 model elevation Lake Pontchartrain LUMCON' : 'H2 model elevation Lake Pontchartrain LUMCON'",
"symbolType":"M-6,0H6","symbolSize":100,"symbolStrokeWidth":3,"symbolOffset":22.5,"labelOffset":31,
"labelFont":"Liberation Sans","labelFontSize":13.5,"labelColor":"#222","labelLimit":800,
"strokeColor":"#c8c8c8","fillColor":"#ffffff","padding":10,"rowPadding":5.5}}
}
},
{
"data":{"values":[{"s":"2010-04-22T01:00","e":"2010-05-06T21:30","lo":1.313,"hi":2.029}]},
"mark":{"type":"rect","filled":false,"stroke":"#a200aa","strokeWidth":4.5,"strokeDash":[13,3,3,3],"clip":false},
"encoding":{
"x":{"field":"s","type":"temporal",
"scale":{"domain":[{"year":2010,"month":3,"date":31},{"year":2010,"month":5,"date":7}]},
"axis":{"orient":"bottom","values":[{"year":2010,"month":4,"date":1},{"year":2010,"month":4,"date":2},{"year":2010,"month":4,"date":3},{"year":2010,"month":4,"date":4},{"year":2010,"month":4,"date":5},{"year":2010,"month":4,"date":6},{"year":2010,"month":4,"date":8},{"year":2010,"month":4,"date":9},{"year":2010,"month":4,"date":10},{"year":2010,"month":4,"date":11},{"year":2010,"month":4,"date":12},{"year":2010,"month":4,"date":13},{"year":2010,"month":4,"date":15},{"year":2010,"month":4,"date":16},{"year":2010,"month":4,"date":17},{"year":2010,"month":4,"date":18},{"year":2010,"month":4,"date":19},{"year":2010,"month":4,"date":20},{"year":2010,"month":4,"date":22},{"year":2010,"month":4,"date":23},{"year":2010,"month":4,"date":24},{"year":2010,"month":4,"date":25},{"year":2010,"month":4,"date":26},{"year":2010,"month":4,"date":27},{"year":2010,"month":4,"date":29},{"year":2010,"month":4,"date":30},{"year":2010,"month":5,"date":1},{"year":2010,"month":5,"date":2},{"year":2010,"month":5,"date":3},{"year":2010,"month":5,"date":4},{"year":2010,"month":5,"date":6}],
"labels":false,"title":null,"domain":false,"tickSize":6,"tickWidth":1.2,"tickColor":"#000",
"grid":true,"gridColor":"#cfcfcf","gridDash":[2,2],"gridWidth":1}},
"x2":{"field":"e"},
"y":{"field":"lo","type":"quantitative",
"scale":{"domain":[1.308,2.034],"nice":false,"zero":false},
"axis":{"orient":"left","values":[1.35,1.45,1.5,1.55,1.65,1.7,1.75,1.85,1.9,1.95],"labels":false,"title":null,"domain":false,"tickSize":5,"tickWidth":1.2,"tickColor":"#000",
"grid":true,"gridColor":"#cfcfcf","gridDash":[2,2],"gridWidth":1}},
"y2":{"field":"hi"}
}
}
],
"resolve":{"axis":{"x":"independent","y":"independent"}}
},
{
"width":967,"height":286,
"layer":[
{
"data":{"name":"bot"},
"transform":[{"fold":["b","r","g"],"as":["k","v"]}],
"mark":{"type":"line","strokeWidth":2.8},
"encoding":{
"x":{"field":"t","type":"temporal",
"scale":{"domain":[{"year":2010,"month":3,"date":31},{"year":2010,"month":5,"date":7}]},
"axis":{"orient":"bottom","values":[{"year":2010,"month":3,"date":31},{"year":2010,"month":4,"date":7},{"year":2010,"month":4,"date":14},{"year":2010,"month":4,"date":21},{"year":2010,"month":4,"date":28},{"year":2010,"month":5,"date":5}],
"format":"%-m/%-d/%y","labelFontSize":21,"labelColor":"#333","labelBaseline":"alphabetic","labelPadding":25,"labelFlush":false,"labelOverlap":false,
"tickSize":8,"tickWidth":3,"tickColor":"#000","domainColor":"#000","domainWidth":1.5,
"grid":true,"gridColor":"#808080","gridDash":[2,2],"gridWidth":1,
"title":"Date","titleFontSize":26,"titleFontWeight":"bold","titleColor":"#000","titleBaseline":"alphabetic","titleY":50}},
"y":{"field":"v","type":"quantitative",
"scale":{"domain":[-0.283,0.391],"nice":false,"zero":false},
"axis":{"orient":"left","values":[-0.2,0,0.2],"labelExpr":"'' + datum.value","labelFontSize":21,"labelColor":"#333","labelPadding":6,"labelFlush":false,
"tickSize":7,"tickWidth":3,"tickColor":"#000","domainColor":"#000","domainWidth":1.5,
"grid":true,"gridColor":"#808080","gridDash":[2,2],"gridWidth":1,
"title":"Tides (m)","titleFontSize":26,"titleFontWeight":"bold","titleColor":"#000","titleAngle":270,"titleBaseline":"alphabetic","titleAlign":"center","titleX":-59,"titleY":143}},
"color":{"field":"k","type":"nominal","scale":{"domain":["b","r","g"],"range":["#1f5fb8","#e01010","#10a010"]},
"legend":{"orient":"none","legendX":8,"legendY":-97,"direction":"vertical","title":null,
"labelExpr":"datum.value == 'b' ? 'Base-case model elevation Rigolets near Lake Pontchartrain, LA' : datum.value == 'r' ? 'H1 model elevation Rigolets near Lake Pontchartrain, LA' : 'H2 model elevation Rigolets near Lake Pontchartrain, LA'",
"symbolType":"M-7.1,0H7.1","symbolSize":100,"symbolStrokeWidth":3,"symbolOffset":29,"labelOffset":40,
"labelFont":"Liberation Sans","labelFontSize":16,"labelColor":"#222","labelLimit":800,
"strokeColor":"#c8c8c8","fillColor":"#ffffff","padding":10,"rowPadding":3}}
}
},
{
"data":{"values":[{"s":"2010-04-22T01:00","e":"2010-05-06T21:30","lo":-0.276,"hi":0.388}]},
"mark":{"type":"rect","filled":false,"stroke":"#a200aa","strokeWidth":4.5,"strokeDash":[13,3,3,3],"clip":false},
"encoding":{
"x":{"field":"s","type":"temporal",
"scale":{"domain":[{"year":2010,"month":3,"date":31},{"year":2010,"month":5,"date":7}]},
"axis":{"orient":"bottom","values":[{"year":2010,"month":4,"date":1},{"year":2010,"month":4,"date":2},{"year":2010,"month":4,"date":3},{"year":2010,"month":4,"date":4},{"year":2010,"month":4,"date":5},{"year":2010,"month":4,"date":6},{"year":2010,"month":4,"date":8},{"year":2010,"month":4,"date":9},{"year":2010,"month":4,"date":10},{"year":2010,"month":4,"date":11},{"year":2010,"month":4,"date":12},{"year":2010,"month":4,"date":13},{"year":2010,"month":4,"date":15},{"year":2010,"month":4,"date":16},{"year":2010,"month":4,"date":17},{"year":2010,"month":4,"date":18},{"year":2010,"month":4,"date":19},{"year":2010,"month":4,"date":20},{"year":2010,"month":4,"date":22},{"year":2010,"month":4,"date":23},{"year":2010,"month":4,"date":24},{"year":2010,"month":4,"date":25},{"year":2010,"month":4,"date":26},{"year":2010,"month":4,"date":27},{"year":2010,"month":4,"date":29},{"year":2010,"month":4,"date":30},{"year":2010,"month":5,"date":1},{"year":2010,"month":5,"date":2},{"year":2010,"month":5,"date":3},{"year":2010,"month":5,"date":4},{"year":2010,"month":5,"date":6}],
"labels":false,"title":null,"domain":false,"tickSize":6,"tickWidth":1.2,"tickColor":"#000",
"grid":true,"gridColor":"#cfcfcf","gridDash":[2,2],"gridWidth":1}},
"x2":{"field":"e"},
"y":{"field":"lo","type":"quantitative",
"scale":{"domain":[-0.283,0.391],"nice":false,"zero":false},
"axis":{"orient":"left","values":[-0.25,-0.15,-0.1,-0.05,0.05,0.1,0.15,0.25,0.3,0.35],"labels":false,"title":null,"domain":false,"tickSize":5,"tickWidth":1.2,"tickColor":"#000",
"grid":true,"gridColor":"#cfcfcf","gridDash":[2,2],"gridWidth":1}},
"y2":{"field":"hi"}
}
}
],
"resolve":{"axis":{"x":"independent","y":"independent"}}
}
]
}
